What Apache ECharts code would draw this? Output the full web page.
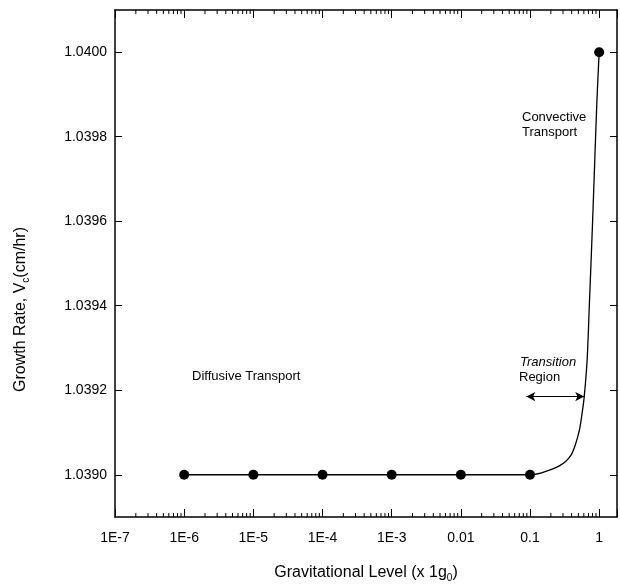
<!DOCTYPE html>
<html>
<head>
<meta charset="utf-8">
<script src="https://cdn.jsdelivr.net/npm/echarts@6/dist/echarts.min.js"></script>
<style>
html,body{margin:0;padding:0;background:#fff;}
#chart{width:620px;height:588px;}
</style>
</head>
<body>
<div id="chart"></div>
<script>
// ---- data ----
const gravityLevels = [1e-6, 1e-5, 1e-4, 1e-3, 0.01, 0.1, 1];
const growthRates   = [1.0390, 1.0390, 1.0390, 1.0390, 1.0390, 1.0390, 1.0400];

const curveGravity = [1e-6, 1e-5, 1e-4, 1e-3, 0.01, 0.1, 0.15, 0.2, 0.265, 0.33, 0.394, 0.45, 0.514, 0.56, 0.608, 0.671, 0.72, 0.77, 0.82, 0.87, 0.92, 0.96, 1.0];
const curveRate    = [1.0390, 1.0390, 1.0390, 1.0390, 1.0390, 1.03900, 1.039005, 1.039012, 1.039021, 1.039032, 1.039047, 1.039070, 1.039103, 1.03914, 1.039185, 1.039274, 1.03940, 1.03952, 1.03964, 1.03976, 1.03987, 1.03994, 1.0400];

const xTickValues = [1e-7, 1e-6, 1e-5, 1e-4, 1e-3, 0.01, 0.1, 1];
const xTickLabels = ['1E-7', '1E-6', '1E-5', '1E-4', '1E-3', '0.01', '0.1', '1'];
const yTickValues = [1.0390, 1.0392, 1.0394, 1.0396, 1.0398, 1.0400];
const yTickLabels = ['1.0390', '1.0392', '1.0394', '1.0396', '1.0398', '1.0400'];

const minorDecades = [1e-7, 1e-6, 1e-5, 1e-4, 1e-3, 1e-2, 1e-1];
const minorMultipliers = [2, 3, 4, 5, 6, 7, 8, 9];

const arrowStart = [0.0885, 1.039185];
const arrowEnd   = [0.608, 1.039185];

// ---- axis ranges ----
const X_MIN = 1e-7, X_MAX = 1.81;
const Y_MIN = 1.0389, Y_MAX = 1.0401;

const FONT = '"Liberation Sans", Arial, sans-serif';

const minorTicks = [];
minorDecades.forEach(d => minorMultipliers.forEach(m => minorTicks.push([m * d, Y_MIN])));

function xLabel(v) {
  for (let i = 0; i < xTickValues.length; i++) {
    if (Math.abs(Math.log10(v) - Math.log10(xTickValues[i])) < 1e-6) return xTickLabels[i];
  }
  return '';
}
function yLabel(v) {
  for (let i = 0; i < yTickValues.length; i++) {
    if (Math.abs(v - yTickValues[i]) < 1e-8) return yTickLabels[i];
  }
  return '';
}

const chart = echarts.init(document.getElementById('chart'), null, {renderer: 'canvas'});

const axisLineStyle = {color: '#000', width: 1.5};
const baseX = {
  type: 'log', logBase: 10, min: X_MIN, max: X_MAX, splitNumber: 7,
  splitLine: {show: false}, minorTick: {show: false}, minorSplitLine: {show: false}
};
const baseY = {
  type: 'value', min: Y_MIN, max: Y_MAX, scale: true,
  splitLine: {show: false}
};

const option = {
  backgroundColor: '#fff',
  animation: false,
  grid: {left: 115, right: 2, top: 10, bottom: 70, containLabel: false},
  xAxis: [
    Object.assign({}, baseX, {
      position: 'bottom',
      axisLine: {show: true, lineStyle: axisLineStyle},
      axisTick: {show: true, inside: true, length: 8, lineStyle: {color: '#000', width: 1}},
      axisLabel: {show: true, margin: 14, color: '#000', fontSize: 14, fontFamily: FONT, formatter: xLabel, showMinLabel: true, showMaxLabel: true},
      name: 'Gravitational Level (x 1g{sub|0})',
      nameLocation: 'middle', nameGap: 46,
      nameTextStyle: {color: '#000', fontSize: 16, fontFamily: FONT,
        rich: {sub: {fontSize: 10, fontFamily: FONT, color: '#000', padding: [10, 0, 0, 0]}}}
    }),
    Object.assign({}, baseX, {
      position: 'top',
      axisLine: {show: true, onZero: false, lineStyle: axisLineStyle},
      axisTick: {show: true, inside: true, length: 8, lineStyle: {color: '#000', width: 1}},
      axisLabel: {show: false}
    })
  ],
  yAxis: [
    Object.assign({}, baseY, {
      position: 'left',
      axisLine: {show: true, lineStyle: axisLineStyle},
      axisTick: {show: true, inside: true, length: 7, customValues: yTickValues, lineStyle: {color: '#000', width: 1}},
      axisLabel: {show: true, margin: 8, color: '#000', fontSize: 14, fontFamily: FONT, customValues: yTickValues, formatter: yLabel},
      name: 'Growth Rate, V{sub|c}(cm/hr)',
      nameLocation: 'middle', nameGap: 84, nameRotate: 90,
      nameTextStyle: {color: '#000', fontSize: 16, fontFamily: FONT, padding: [0, 92, 0, 0],
        rich: {sub: {fontSize: 10, fontFamily: FONT, color: '#000', padding: [10, 0, 0, 0]}}}
    }),
    Object.assign({}, baseY, {
      position: 'right',
      axisLine: {show: true, onZero: false, lineStyle: axisLineStyle},
      axisTick: {show: true, inside: true, length: 7, customValues: yTickValues, lineStyle: {color: '#000', width: 1}},
      axisLabel: {show: false}
    })
  ],
  graphic: [
    {type: 'text', left: 192, top: 370, style: {text: 'Diffusive Transport', fill: '#000', font: '13px ' + FONT}},
    {type: 'text', left: 520, top: 356, style: {text: 'Transition', fill: '#000', font: 'italic 13px ' + FONT}},
    {type: 'text', left: 519, top: 371, style: {text: 'Region', fill: '#000', font: '13px ' + FONT}},
    {type: 'text', left: 522, top: 111, style: {text: 'Convective', fill: '#000', font: '13px ' + FONT}},
    {type: 'text', left: 522, top: 126, style: {text: 'Transport', fill: '#000', font: '13px ' + FONT}}
  ],
  series: [
    {
      type: 'line', name: 'fit', xAxisIndex: 0, yAxisIndex: 0,
      data: curveGravity.map((g, i) => [g, curveRate[i]]),
      smooth: 0.3, showSymbol: false, symbol: 'none',
      lineStyle: {color: '#000', width: 1.3},
      z: 3,
      markLine: {
        silent: true, symbol: ['arrow', 'arrow'], symbolSize: [7, 9],
        label: {show: false},
        lineStyle: {color: '#000', width: 1, type: 'solid'},
        data: [[{coord: arrowStart}, {coord: arrowEnd}]]
      }
    },
    {
      type: 'scatter', name: 'data', xAxisIndex: 0, yAxisIndex: 0,
      data: gravityLevels.map((g, i) => [g, growthRates[i]]),
      symbol: 'circle', symbolSize: 10,
      itemStyle: {color: '#000', opacity: 1},
      z: 4
    },
    {
      type: 'custom', name: 'minorTicks', xAxisIndex: 0, yAxisIndex: 0,
      silent: true, clip: false,
      data: minorTicks,
      renderItem: function (params, api) {
        const x = api.value(0);
        const b = api.coord([x, Y_MIN]);
        const t = api.coord([x, Y_MAX]);
        return {
          type: 'group',
          children: [
            {type: 'line', shape: {x1: b[0], y1: b[1], x2: b[0], y2: b[1] - 4}, style: {stroke: '#000', lineWidth: 1}},
            {type: 'line', shape: {x1: t[0], y1: t[1], x2: t[0], y2: t[1] + 4}, style: {stroke: '#000', lineWidth: 1}}
          ]
        };
      }
    }
  ]
};
chart.setOption(option);
</script>
</body>
</html>
